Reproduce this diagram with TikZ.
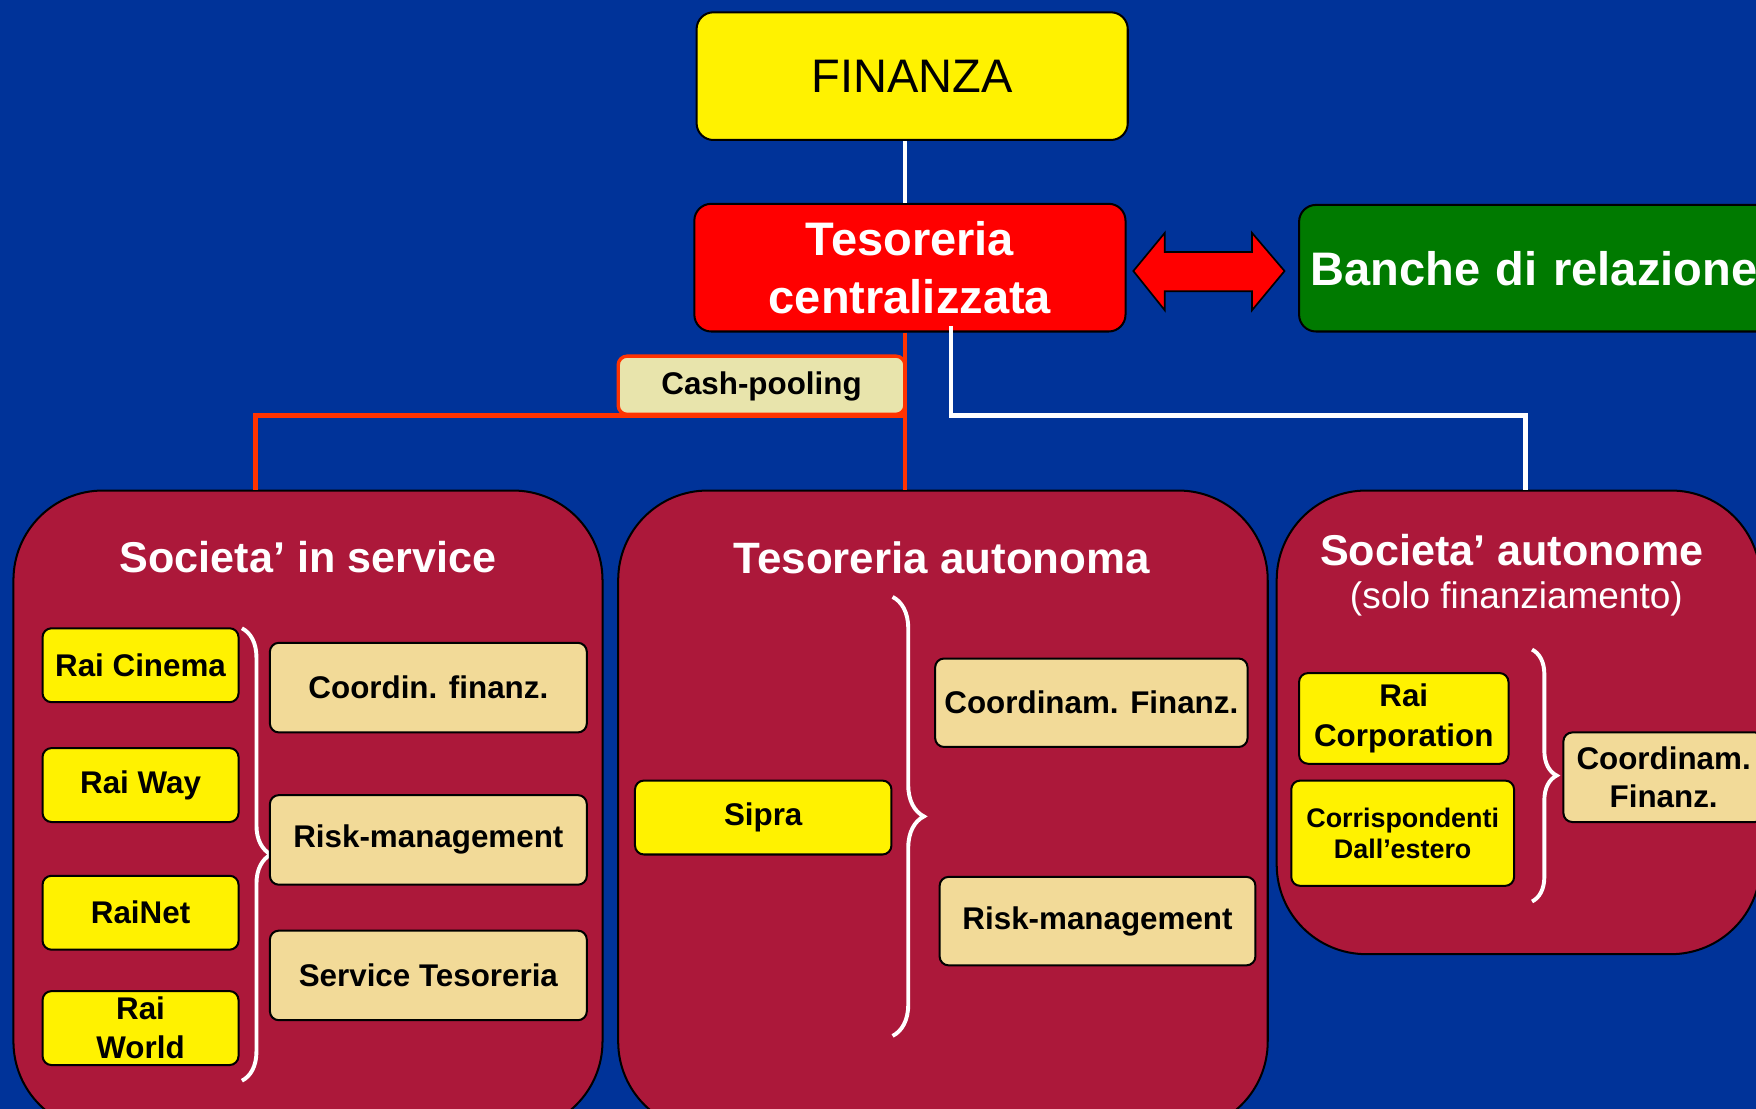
\documentclass[tikz,border=0pt]{standalone}
\usepackage{fontspec}
\setmainfont{Liberation Sans}
\usetikzlibrary{decorations.pathreplacing}
\definecolor{bgblue}{RGB}{0,51,153}
\definecolor{panelred}{RGB}{172,24,58}
\definecolor{tanbox}{RGB}{242,218,152}
\definecolor{cashbox}{RGB}{232,228,172}
\definecolor{linered}{RGB}{255,51,0}
\definecolor{bankgreen}{RGB}{0,122,0}
\newcommand{\fs}[2]{\fontsize{#1}{#2}\selectfont}
\begin{document}
\begin{tikzpicture}[x=1pt,y=-1pt,
 box/.style={draw=black,line width=1.8pt,rounded corners=8pt,inner sep=0pt,align=center},
 ybox/.style={box,fill=yellow,font=\bfseries\fs{28}{35}},
 tbox/.style={box,fill=tanbox,font=\bfseries\fs{28}{34}},
 bigbox/.style={box,rounded corners=15pt,minimum width=385pt,minimum height=114pt},
 panel/.style={draw=black,line width=1.8pt,fill=panelred,rounded corners=80pt,inner sep=0pt},
 ptitle/.style={text=white,font=\bfseries\fs{38.5}{46}},
 wline/.style={draw=white,line width=4pt},
 rline/.style={draw=linered,line width=4pt},
 brc/.style={draw=white,line width=3.5pt,decorate,decoration={brace,amplitude=#1}},
]
\useasboundingbox (0,0) rectangle (1568,990);
\fill[bgblue] (0,0) rectangle (1568,990);

% panels
\node[panel,minimum width=526pt,minimum height=572pt] (p1) at (275,724) {};
\node[panel,minimum width=580pt,minimum height=572pt] (p2) at (842,724) {};
\node[panel,minimum width=432pt,minimum height=414pt] (p3) at (1356,645) {};

% top boxes
\node[bigbox,fill=yellow,font=\fs{42}{50}] (fin) at (814.5,68) {FINANZA};
\node[bigbox,fill=red,text=white,font=\bfseries\fs{42}{51}] (tes) at (812.5,239) {Tesoreria\\centralizzata};
\node[box,fill=bankgreen,text=white,rounded corners=15pt,minimum width=425pt,minimum height=113pt,
      text width=405pt,align=left,inner xsep=10pt,font=\bfseries\fs{42}{50}] (ban) at (1372.5,239.5) {\mbox{Banche di relazione}};

% double arrow
\filldraw[fill=red,draw=black,line width=1.5pt]
  (1012,242) -- (1040,208) -- (1040,225) -- (1118,225) -- (1118,208) -- (1147,242)
  -- (1118,277) -- (1118,260) -- (1040,260) -- (1040,277) -- cycle;

% connectors
\coordinate (j1) at (808,371);
\coordinate (p3top) at ([xshift=6pt]p3.north);
\draw[wline] ([xshift=-6.5pt]fin.south) -- ([xshift=-6.5pt]fin.south |- tes.north);
\draw[rline] ([xshift=-4.5pt]tes.south) -- ([xshift=-4.5pt]tes.south |- p2.north);
\draw[rline] (j1) -| ([xshift=-47pt]p1.north);
\draw[wline] ([xshift=36.5pt,yshift=6pt]tes.south) |- (p3top |- j1) -- (p3top);

\node[box,fill=cashbox,draw=linered,line width=3pt,minimum width=256pt,minimum height=52pt,
      text height=20pt,text depth=3pt,font=\bfseries\fs{28}{34}] (cash) at (680,344) {Cash-pooling};

% titles
\node[ptitle] (t1) at (275,497) {Societa’ in service};
\node[ptitle,font=\bfseries\fs{39.2}{46}] (t2) at (841,498) {Tesoreria autonoma};
\node[ptitle] (t3) at (1350,491) {Societa’ autonome};
\node[text=white,font=\fs{33}{40}] (t3b) at (1354,535) {(solo finanziamento)};

% left panel
\node[ybox,minimum width=175pt,minimum height=66pt] (rc) at (125.5,594) {Rai Cinema};
\node[ybox,minimum width=175pt,minimum height=66pt] (rw) at (125.5,701) {Rai Way};
\node[ybox,minimum width=175pt,minimum height=66pt] (rn) at (125.5,815) {RaiNet};
\node[ybox,minimum width=175pt,minimum height=66pt] (rwo) at (125.5,918) {Rai\\World};
\draw[brc=26pt] (216,561) -- (216,965);
\node[tbox,minimum width=283pt,minimum height=80pt] (c1) at (382.5,614) {Coordin. finanz.};
\node[tbox,minimum width=283pt,minimum height=80pt] (r1) at (382.5,750) {Risk-management};
\node[tbox,minimum width=283pt,minimum height=80pt] (s1) at (382.5,871) {Service Tesoreria};

% center panel
\node[ybox,minimum width=229pt,minimum height=66pt] (sip) at (681.5,730) {Sipra};
\draw[brc=28pt] (797,533) -- (797,925);
\node[tbox,minimum width=279pt,minimum height=79pt] (c2) at (974.5,627.5) {Coordinam. Finanz.};
\node[tbox,minimum width=282pt,minimum height=79pt] (r2) at (980,822.5) {Risk-management};

% right panel
\node[ybox,minimum width=187pt,minimum height=81pt] (rcp) at (1253.5,641.5) {Rai\\Corporation};
\node[ybox,minimum width=199pt,minimum height=94pt,font=\bfseries\fs{24}{28}] (cor) at (1252.5,744) {Corrispondenti\\Dall’estero};
\draw[brc=22pt] (1368,580) -- (1368,805);
\node[tbox,minimum width=179pt,minimum height=80pt] (c3) at (1485.5,694) {Coordinam.\\Finanz.};
\end{tikzpicture}
\end{document}
